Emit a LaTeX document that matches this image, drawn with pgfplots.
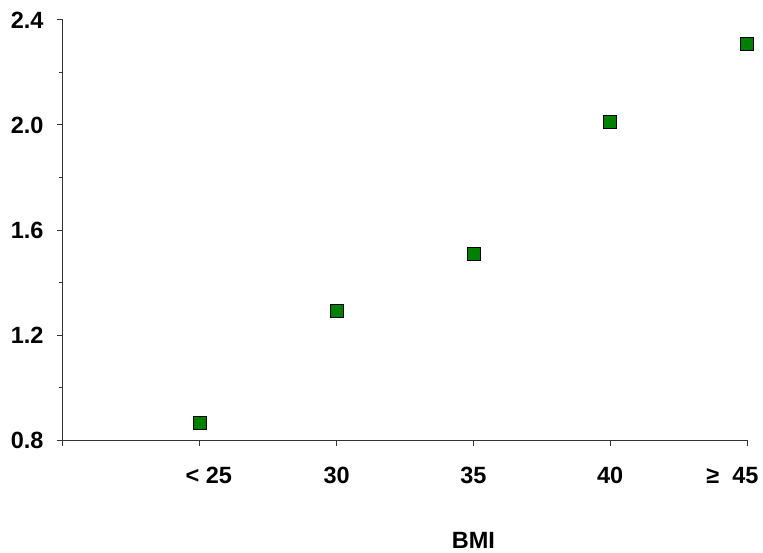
\documentclass[border=0pt]{standalone}
\usepackage{pgfplots}
\pgfplotsset{compat=1.18}
\usetikzlibrary{calc}
\usepackage{fontspec}
\setmainfont{Liberation Sans}
\definecolor{mkgreen}{RGB}{0,128,0}
\begin{document}
\begin{tikzpicture}
\begin{axis}[
  width=684pt, height=420pt, scale only axis,
  xmin=0, xmax=5, ymin=0.8, ymax=2.4,
  clip=false,
  axis x line*=bottom, axis y line*=left,
  axis line style={line width=1pt, color=black!80},
  tick style={line width=1pt, color=black!80},
  tick align=outside,
  major tick length=6pt, minor tick length=4pt,
  xtick={0,1,2,3,4,5},
  xticklabels={{},{\makebox[0pt]{\hspace{18pt}< 25}},{30},{35},{40},{\makebox[0pt]{≥\ \ 45\hspace{29pt}}}},
  ytick={0.8,1.2,1.6,2.0,2.4},
  minor ytick={1.0,1.4,1.8,2.2},
  yticklabel style={/pgf/number format/fixed, /pgf/number format/fixed zerofill, /pgf/number format/precision=1},
  /pgf/number format/assume math mode=true,
  ticklabel style={font=\fontsize{23.5}{27}\selectfont\bfseries},
  xticklabel style={yshift=-18pt},
  yticklabel style={xshift=-10pt},
  xlabel={BMI},
  xlabel style={font=\fontsize{23.5}{27}\selectfont\bfseries, at={(rel axis cs:0.6,0)}, anchor=center, yshift=-100pt},
]
\addplot[only marks, mark=square*, mark size=6.5pt,
  mark options={fill=mkgreen, draw=black, line width=0.8pt}]
  coordinates {(1,0.865) (2,1.29) (3,1.51) (4,2.01) (5,2.31)};
\coordinate (tl) at (rel axis cs:0,1);
\coordinate (br) at (rel axis cs:1,0);
\end{axis}
\path[use as bounding box] ($(tl)+(-63pt,20pt)$) rectangle ($(br)+(16pt,-112pt)$);
\end{tikzpicture}
\end{document}
